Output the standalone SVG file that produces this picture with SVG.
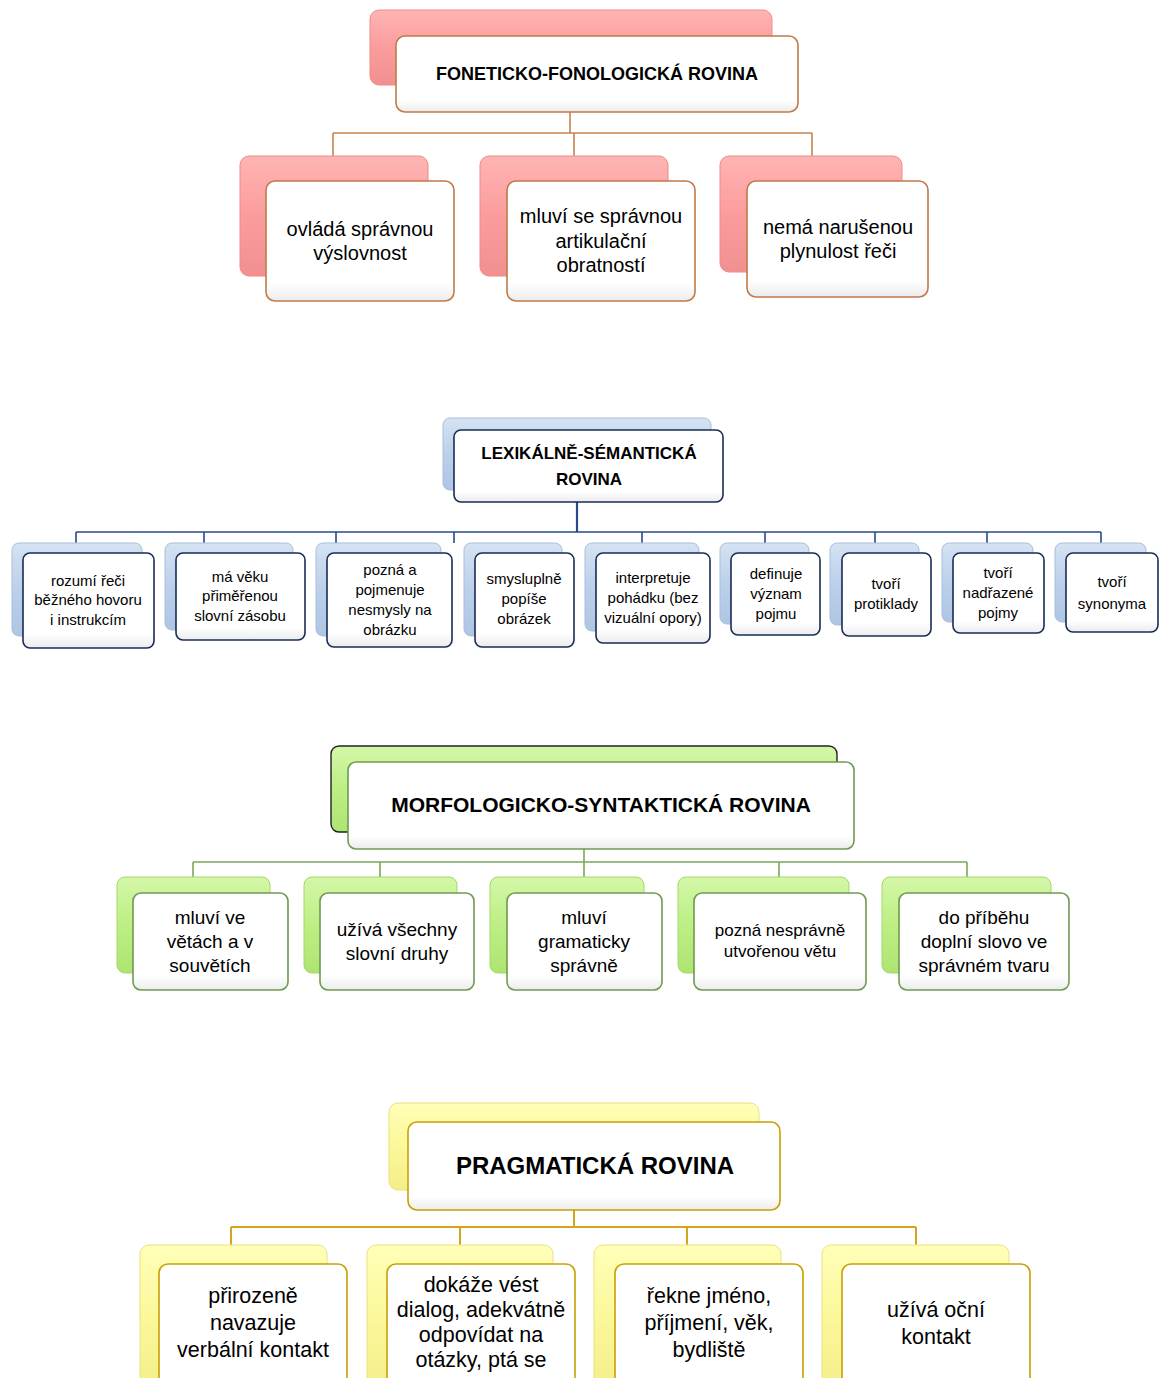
<svg xmlns="http://www.w3.org/2000/svg" width="1160" height="1378" viewBox="0 0 1160 1378">
<defs>
<linearGradient id="gRed" x1="0" y1="0" x2="0" y2="1"><stop offset="0" stop-color="#ffb4b4"/><stop offset="0.5" stop-color="#fb9c9c"/><stop offset="1" stop-color="#f29090"/></linearGradient>
<linearGradient id="gBlue" x1="0" y1="0" x2="0" y2="1"><stop offset="0" stop-color="#d5e3f3"/><stop offset="0.5" stop-color="#bcd0ea"/><stop offset="1" stop-color="#aec5e3"/></linearGradient>
<linearGradient id="gGreen" x1="0" y1="0" x2="0" y2="1"><stop offset="0" stop-color="#d4f7a8"/><stop offset="0.5" stop-color="#bdef84"/><stop offset="1" stop-color="#aee472"/></linearGradient>
<linearGradient id="gYellow" x1="0" y1="0" x2="0" y2="1"><stop offset="0" stop-color="#ffffb8"/><stop offset="0.5" stop-color="#fbf79a"/><stop offset="1" stop-color="#f3ee88"/></linearGradient>
<linearGradient id="gFront" x1="0" y1="0" x2="0" y2="1"><stop offset="0" stop-color="#ffffff"/><stop offset="0.85" stop-color="#ffffff"/><stop offset="1" stop-color="#ececec"/></linearGradient>
</defs>
<style>
text{font-family:"Liberation Sans",Arial,sans-serif;fill:#000;text-anchor:middle;}
.t{font-weight:bold;}
.front{fill:url(#gFront);stroke-width:1.6;}
.br{fill:url(#gRed);stroke:#f08a8a;stroke-width:1;}
.bb{fill:url(#gBlue);stroke:#a9bedc;stroke-width:1;}
.bg{fill:url(#gGreen);stroke:#a3d86a;stroke-width:1;}
.bgd{fill:url(#gGreen);stroke:#222222;stroke-width:1.4;}
.by{fill:url(#gYellow);stroke:#e9e27c;stroke-width:1;}
.fr{stroke:#c07a48;}
.fb{stroke:#172c55;}
.fg{stroke:#6f9a50;}
.fy{stroke:#c9a000;}
.cr{stroke:#c9824f;stroke-width:1.6;fill:none;}
.cb{stroke:#264b8c;stroke-width:1.6;fill:none;}
.cb2{stroke:#264b8c;stroke-width:2.2;fill:none;}
.cg{stroke:#7ba75a;stroke-width:1.6;fill:none;}
.cy{stroke:#d7a51c;stroke-width:2;fill:none;}
.s20{font-size:20px;}
.s15{font-size:15px;}
.s19{font-size:19px;}
.s22{font-size:21.5px;}
</style>
<rect width="1160" height="1378" fill="#ffffff"/>

<g id="connectors">
<path class="cr" d="M570 112V133M333 133H812M333 133V156M574 133V156M812 133V156"/>
<path class="cb2" d="M577 502V532"/>
<path class="cb" d="M76 532H1101M76 532V543M204 532V543M336 532V543M454 532V543M642 532V543M765 532V543M875 532V543M987 532V543M1101 532V543"/>
<path class="cg" d="M584 849V862M193 862H967M193 862V877M380 862V877M584 862V877M779 862V877M967 862V877"/>
<path class="cy" d="M574 1210V1227M231 1227H916M231 1227V1245M460 1227V1245M687 1227V1245M916 1227V1245"/>
</g>

<!-- Section 1 -->
<g id="fon-title">
<rect class="br" x="370" y="10" width="402" height="75" rx="9"/>
<rect class="front fr" x="396" y="36" width="402" height="76" rx="9"/>
<text class="t" x="597" y="80" font-size="18">FONETICKO-FONOLOGICKÁ ROVINA</text>
</g>
<g id="fon-1">
<rect class="br" x="240" y="156" width="188" height="120" rx="9"/>
<rect class="front fr" x="266" y="181" width="188" height="120" rx="9"/>
<text class="s20" x="360" y="236">ovládá správnou</text>
<text class="s20" x="360" y="260">výslovnost</text>
</g>
<g id="fon-2">
<rect class="br" x="480" y="156" width="188" height="120" rx="9"/>
<rect class="front fr" x="507" y="181" width="188" height="120" rx="9"/>
<text class="s20" x="601" y="223">mluví se správnou</text>
<text class="s20" x="601" y="248">artikulační</text>
<text class="s20" x="601" y="272">obratností</text>
</g>
<g id="fon-3">
<rect class="br" x="720" y="156" width="182" height="116" rx="9"/>
<rect class="front fr" x="747" y="181" width="181" height="116" rx="9"/>
<text class="s20" x="838" y="234">nemá narušenou</text>
<text class="s20" x="838" y="258">plynulost řeči</text>
</g>

<!-- Section 2 -->
<g id="lex-title">
<rect class="bb" x="443" y="418" width="268" height="72" rx="7"/>
<rect class="front fb" x="454" y="430" width="269" height="72" rx="7"/>
<text class="t" x="589" y="459" font-size="17">LEXIKÁLNĚ-SÉMANTICKÁ</text>
<text class="t" x="589" y="485" font-size="17">ROVINA</text>
</g>
<g id="lex-1">
<rect class="bb" x="12" y="543" width="130" height="93" rx="7"/>
<rect class="front fb" x="23" y="553" width="131" height="95" rx="7"/>
<text class="s15" x="88" y="586">rozumí řeči</text>
<text class="s15" x="88" y="605">běžného hovoru</text>
<text class="s15" x="88" y="625">i instrukcím</text>
</g>
<g id="lex-2">
<rect class="bb" x="165" y="543" width="128" height="87" rx="7"/>
<rect class="front fb" x="176" y="553" width="129" height="87" rx="7"/>
<text class="s15" x="240" y="582">má věku</text>
<text class="s15" x="240" y="601">přiměřenou</text>
<text class="s15" x="240" y="621">slovní zásobu</text>
</g>
<g id="lex-3">
<rect class="bb" x="316" y="543" width="125" height="93" rx="7"/>
<rect class="front fb" x="327" y="553" width="125" height="94" rx="7"/>
<text class="s15" x="390" y="575">pozná a</text>
<text class="s15" x="390" y="595">pojmenuje</text>
<text class="s15" x="390" y="615">nesmysly na</text>
<text class="s15" x="390" y="635">obrázku</text>
</g>
<g id="lex-4">
<rect class="bb" x="464" y="543" width="98" height="93" rx="7"/>
<rect class="front fb" x="475" y="553" width="99" height="94" rx="7"/>
<text class="s15" x="524" y="584">smysluplně</text>
<text class="s15" x="524" y="604">popíše</text>
<text class="s15" x="524" y="624">obrázek</text>
</g>
<g id="lex-5">
<rect class="bb" x="585" y="543" width="114" height="88" rx="7"/>
<rect class="front fb" x="596" y="553" width="114" height="90" rx="7"/>
<text class="s15" x="653" y="583">interpretuje</text>
<text class="s15" x="653" y="603">pohádku (bez</text>
<text class="s15" x="653" y="623">vizuální opory)</text>
</g>
<g id="lex-6">
<rect class="bb" x="720" y="543" width="89" height="81" rx="7"/>
<rect class="front fb" x="731" y="553" width="89" height="82" rx="7"/>
<text class="s15" x="776" y="579">definuje</text>
<text class="s15" x="776" y="599">význam</text>
<text class="s15" x="776" y="619">pojmu</text>
</g>
<g id="lex-7">
<rect class="bb" x="830" y="543" width="89" height="82" rx="7"/>
<rect class="front fb" x="842" y="553" width="89" height="83" rx="7"/>
<text class="s15" x="886" y="589">tvoří</text>
<text class="s15" x="886" y="609">protiklady</text>
</g>
<g id="lex-8">
<rect class="bb" x="942" y="543" width="91" height="79" rx="7"/>
<rect class="front fb" x="953" y="553" width="91" height="80" rx="7"/>
<text class="s15" x="998" y="578">tvoří</text>
<text class="s15" x="998" y="598">nadřazené</text>
<text class="s15" x="998" y="618">pojmy</text>
</g>
<g id="lex-9">
<rect class="bb" x="1055" y="543" width="91" height="79" rx="7"/>
<rect class="front fb" x="1066" y="553" width="92" height="79" rx="7"/>
<text class="s15" x="1112" y="587">tvoří</text>
<text class="s15" x="1112" y="609">synonyma</text>
</g>

<!-- Section 3 -->
<g id="mor-title">
<rect class="bgd" x="331" y="746" width="506" height="86" rx="8"/>
<rect class="front fg" x="348" y="762" width="506" height="87" rx="8"/>
<text class="t" x="601" y="812" font-size="21">MORFOLOGICKO-SYNTAKTICKÁ ROVINA</text>
</g>
<g id="mor-1">
<rect class="bg" x="117" y="877" width="153" height="96" rx="8"/>
<rect class="front fg" x="133" y="893" width="155" height="97" rx="8"/>
<text class="s19" x="210" y="924">mluví ve</text>
<text class="s19" x="210" y="948">větách a v</text>
<text class="s19" x="210" y="972">souvětích</text>
</g>
<g id="mor-2">
<rect class="bg" x="304" y="877" width="153" height="96" rx="8"/>
<rect class="front fg" x="320" y="893" width="154" height="97" rx="8"/>
<text class="s19" x="397" y="936">užívá všechny</text>
<text class="s19" x="397" y="960">slovní druhy</text>
</g>
<g id="mor-3">
<rect class="bg" x="490" y="877" width="154" height="96" rx="8"/>
<rect class="front fg" x="507" y="893" width="155" height="97" rx="8"/>
<text class="s19" x="584" y="924">mluví</text>
<text class="s19" x="584" y="948">gramaticky</text>
<text class="s19" x="584" y="972">správně</text>
</g>
<g id="mor-4">
<rect class="bg" x="678" y="877" width="171" height="96" rx="8"/>
<rect class="front fg" x="694" y="893" width="172" height="97" rx="8"/>
<text x="780" y="936" font-size="17">pozná nesprávně</text>
<text x="780" y="957" font-size="17">utvořenou větu</text>
</g>
<g id="mor-5">
<rect class="bg" x="882" y="877" width="169" height="96" rx="8"/>
<rect class="front fg" x="899" y="893" width="170" height="97" rx="8"/>
<text class="s19" x="984" y="924">do příběhu</text>
<text class="s19" x="984" y="948">doplní slovo ve</text>
<text class="s19" x="984" y="972">správném tvaru</text>
</g>

<!-- Section 4 -->
<g id="prag-title">
<rect class="by" x="389" y="1103" width="370" height="87" rx="9"/>
<rect class="front fy" x="408" y="1122" width="372" height="88" rx="9"/>
<text class="t" x="595" y="1174" font-size="24">PRAGMATICKÁ ROVINA</text>
</g>
<g id="prag-1">
<rect class="by" x="140" y="1245" width="187" height="150" rx="9"/>
<rect class="front fy" x="159" y="1264" width="188" height="140" rx="9"/>
<text class="s22" x="253" y="1303">přirozeně</text>
<text class="s22" x="253" y="1330">navazuje</text>
<text class="s22" x="253" y="1357">verbální kontakt</text>
</g>
<g id="prag-2">
<rect class="by" x="367" y="1245" width="186" height="150" rx="9"/>
<rect class="front fy" x="387" y="1264" width="188" height="140" rx="9"/>
<text class="s22" x="481" y="1292">dokáže vést</text>
<text class="s22" x="481" y="1317">dialog, adekvátně</text>
<text class="s22" x="481" y="1342">odpovídat na</text>
<text class="s22" x="481" y="1367">otázky, ptá se</text>
</g>
<g id="prag-3">
<rect class="by" x="594" y="1245" width="187" height="150" rx="9"/>
<rect class="front fy" x="615" y="1264" width="188" height="140" rx="9"/>
<text class="s22" x="709" y="1303">řekne jméno,</text>
<text class="s22" x="709" y="1330">příjmení, věk,</text>
<text class="s22" x="709" y="1357">bydliště</text>
</g>
<g id="prag-4">
<rect class="by" x="822" y="1245" width="187" height="150" rx="9"/>
<rect class="front fy" x="842" y="1264" width="188" height="140" rx="9"/>
<text class="s22" x="936" y="1317">užívá oční</text>
<text class="s22" x="936" y="1344">kontakt</text>
</g>
</svg>
